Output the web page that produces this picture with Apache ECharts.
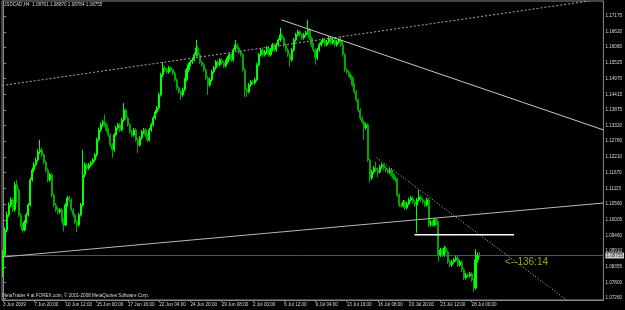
<!DOCTYPE html>
<html><head><meta charset="utf-8">
<script src="https://cdn.jsdelivr.net/npm/echarts@6/dist/echarts.min.js"></script>
<style>html,body{margin:0;padding:0;background:#000;}#c{width:625px;height:310px;}</style>
</head><body><div id="c"></div>
<script>
const titleText = 'USDCAD,H4  1.08761 1.08870 1.08784 1.08755';
const footerText = 'MetaTrader 4 at FOREX.com, \u00a9 2001-2008 MetaQuotes Software Corp.';
const slotCount = 308;
const tickBars = [0,16,32,48,64,80,96,112,128,144,160,176,192,208,224,240];
const tickLabels = ['3 Jun 2009','7 Jun 20:00','10 Jun 12:00','15 Jun 00:00','17 Jun 16:00','22 Jun 04:00','24 Jun 20:00','29 Jun 08:00','2 Jul 00:00','6 Jul 12:00','9 Jul 04:00','13 Jul 16:00','16 Jul 08:00','20 Jul 20:00','23 Jul 12:00','28 Jul 00:00'];
const yTicks = [1.07260,1.07800,1.08355,1.08910,1.09460,1.10005,1.10560,1.11115,1.11670,1.12210,1.12780,1.13320,1.13875,1.14415,1.14970,1.15525,1.16080,1.16620,1.17175];
const yMin = 1.07190, yMax = 1.17702;
// [open, close, low, high]
const candles = [
[1.0825,1.0877,1.0800,1.0895],[1.0877,1.0965,1.0870,1.0975],[1.0965,1.1018,1.0958,1.1030],[1.1018,1.1053,1.1010,1.1062],[1.1053,1.1071,1.1045,1.1080],[1.1071,1.1036,1.1028,1.1078],
[1.1036,1.1124,1.1030,1.1135],[1.1124,1.1106,1.1060,1.1141],[1.1106,1.1018,1.1010,1.1112],[1.1018,1.0983,1.0975,1.1025],[1.0983,1.0965,1.0955,1.0990],[1.0965,1.0993,1.0960,1.1000],
[1.0993,1.1018,1.0988,1.1025],[1.1018,1.1053,1.1012,1.1060],[1.1053,1.1141,1.1048,1.1150],[1.1141,1.1176,1.1135,1.1185],[1.1176,1.1194,1.1168,1.1203],[1.1194,1.1211,1.1188,1.1220],
[1.1211,1.1240,1.1205,1.1250],[1.1240,1.1247,1.1232,1.1282],[1.1247,1.1229,1.1222,1.1255],[1.1229,1.1204,1.1197,1.1236],[1.1204,1.1176,1.1168,1.1210],[1.1176,1.1141,1.1133,1.1182],
[1.1141,1.1159,1.1135,1.1166],[1.1159,1.1088,1.1080,1.1165],[1.1088,1.1053,1.1045,1.1094],[1.1053,1.1036,1.1028,1.1060],[1.1036,1.1029,1.1020,1.1045],[1.1029,1.1036,1.1022,1.1043],
[1.1036,1.1001,1.0993,1.1042],[1.1001,1.0983,1.0960,1.1008],[1.0983,1.1053,1.0978,1.1060],[1.1053,1.1078,1.1047,1.1086],[1.1078,1.1071,1.1063,1.1085],[1.1071,1.1036,1.1030,1.1077],
[1.1036,1.1018,1.1010,1.1042],[1.1018,1.0993,1.0985,1.1024],[1.0993,1.0983,1.0958,1.1000],[1.0983,1.1018,1.0977,1.1025],[1.1018,1.1053,1.1012,1.1060],[1.1053,1.1159,1.1048,1.1247],
[1.1159,1.1194,1.1150,1.1203],[1.1194,1.1183,1.1175,1.1200],[1.1183,1.1194,1.1176,1.1201],[1.1194,1.1201,1.1187,1.1208],[1.1201,1.1211,1.1195,1.1218],[1.1211,1.1229,1.1205,1.1236],
[1.1229,1.1282,1.1222,1.1290],[1.1282,1.1317,1.1276,1.1325],[1.1317,1.1335,1.1310,1.1343],[1.1335,1.1345,1.1328,1.1353],[1.1345,1.1335,1.1328,1.1370],[1.1335,1.1317,1.1310,1.1341],
[1.1317,1.1299,1.1292,1.1323],[1.1299,1.1264,1.1257,1.1305],[1.1264,1.1247,1.1218,1.1270],[1.1247,1.1299,1.1240,1.1306],[1.1299,1.1324,1.1293,1.1331],[1.1324,1.1335,1.1317,1.1342],
[1.1335,1.1317,1.1310,1.1341],[1.1317,1.1352,1.1311,1.1360],[1.1352,1.1387,1.1345,1.1412],[1.1387,1.1359,1.1352,1.1393],[1.1359,1.1335,1.1328,1.1365],[1.1335,1.1310,1.1303,1.1341],
[1.1310,1.1299,1.1292,1.1317],[1.1299,1.1317,1.1293,1.1324],[1.1317,1.1282,1.1275,1.1323],[1.1282,1.1264,1.1236,1.1289],[1.1264,1.1289,1.1258,1.1296],[1.1289,1.1310,1.1283,1.1317],
[1.1310,1.1317,1.1303,1.1324],[1.1317,1.1299,1.1292,1.1323],[1.1299,1.1282,1.1275,1.1305],[1.1282,1.1317,1.1276,1.1324],[1.1317,1.1335,1.1311,1.1342],[1.1335,1.1359,1.1329,1.1366],
[1.1359,1.1380,1.1353,1.1387],[1.1380,1.1394,1.1374,1.1401],[1.1394,1.1440,1.1388,1.1448],[1.1440,1.1510,1.1434,1.1518],[1.1510,1.1535,1.1503,1.1556],[1.1535,1.1528,1.1520,1.1542],
[1.1528,1.1521,1.1514,1.1535],[1.1521,1.1535,1.1515,1.1542],[1.1535,1.1528,1.1521,1.1541],[1.1528,1.1517,1.1510,1.1534],[1.1517,1.1493,1.1486,1.1523],[1.1493,1.1465,1.1458,1.1499],
[1.1465,1.1451,1.1444,1.1471],[1.1451,1.1440,1.1422,1.1457],[1.1440,1.1458,1.1433,1.1465],[1.1458,1.1493,1.1452,1.1500],[1.1493,1.1528,1.1487,1.1535],[1.1528,1.1546,1.1521,1.1553],
[1.1546,1.1556,1.1539,1.1563],[1.1556,1.1563,1.1549,1.1570],[1.1563,1.1581,1.1557,1.1588],[1.1581,1.1605,1.1575,1.1633],[1.1605,1.1581,1.1574,1.1612],[1.1581,1.1556,1.1549,1.1587],
[1.1556,1.1546,1.1539,1.1562],[1.1546,1.1528,1.1521,1.1552],[1.1528,1.1500,1.1493,1.1534],[1.1500,1.1475,1.1440,1.1506],[1.1475,1.1493,1.1468,1.1500],[1.1493,1.1521,1.1487,1.1528],
[1.1521,1.1535,1.1515,1.1542],[1.1535,1.1556,1.1529,1.1563],[1.1556,1.1546,1.1539,1.1562],[1.1546,1.1563,1.1540,1.1570],[1.1563,1.1553,1.1546,1.1569],[1.1553,1.1542,1.1535,1.1559],
[1.1542,1.1556,1.1536,1.1563],[1.1556,1.1570,1.1550,1.1577],[1.1570,1.1581,1.1564,1.1588],[1.1581,1.1563,1.1556,1.1587],[1.1563,1.1598,1.1557,1.1605],[1.1598,1.1616,1.1592,1.1633],
[1.1616,1.1605,1.1598,1.1622],[1.1605,1.1591,1.1584,1.1611],[1.1591,1.1581,1.1574,1.1597],[1.1581,1.1528,1.1521,1.1587],[1.1528,1.1458,1.1433,1.1534],[1.1458,1.1451,1.1433,1.1464],
[1.1451,1.1475,1.1445,1.1482],[1.1475,1.1486,1.1469,1.1493],[1.1486,1.1482,1.1475,1.1492],[1.1482,1.1493,1.1476,1.1500],[1.1493,1.1546,1.1487,1.1553],[1.1546,1.1581,1.1540,1.1588],
[1.1581,1.1598,1.1575,1.1605],[1.1598,1.1581,1.1574,1.1604],[1.1581,1.1591,1.1575,1.1598],[1.1591,1.1605,1.1585,1.1612],[1.1605,1.1581,1.1574,1.1611],[1.1581,1.1598,1.1575,1.1605],
[1.1598,1.1616,1.1592,1.1623],[1.1616,1.1598,1.1591,1.1622],[1.1598,1.1616,1.1592,1.1623],[1.1616,1.1633,1.1610,1.1640],[1.1633,1.1651,1.1627,1.1676],[1.1651,1.1640,1.1633,1.1657],
[1.1640,1.1616,1.1609,1.1646],[1.1616,1.1598,1.1591,1.1622],[1.1598,1.1581,1.1574,1.1604],[1.1581,1.1563,1.1539,1.1587],[1.1563,1.1598,1.1557,1.1605],[1.1598,1.1633,1.1592,1.1640],
[1.1633,1.1651,1.1627,1.1658],[1.1651,1.1662,1.1645,1.1669],[1.1662,1.1651,1.1644,1.1668],[1.1651,1.1640,1.1633,1.1657],[1.1640,1.1651,1.1634,1.1658],[1.1651,1.1658,1.1645,1.1665],
[1.1658,1.1669,1.1652,1.1704],[1.1669,1.1640,1.1633,1.1675],[1.1640,1.1616,1.1609,1.1646],[1.1616,1.1598,1.1591,1.1622],[1.1598,1.1570,1.1546,1.1604],[1.1570,1.1598,1.1564,1.1605],
[1.1598,1.1616,1.1592,1.1623],[1.1616,1.1626,1.1610,1.1633],[1.1626,1.1633,1.1620,1.1640],[1.1633,1.1616,1.1609,1.1639],[1.1616,1.1626,1.1610,1.1633],[1.1626,1.1640,1.1620,1.1647],
[1.1640,1.1623,1.1616,1.1646],[1.1623,1.1633,1.1617,1.1640],[1.1633,1.1616,1.1609,1.1639],[1.1616,1.1626,1.1610,1.1633],[1.1626,1.1633,1.1620,1.1640],[1.1633,1.1616,1.1609,1.1645],
[1.1616,1.1581,1.1574,1.1630],[1.1581,1.1528,1.1521,1.1587],[1.1528,1.1521,1.1514,1.1535],[1.1521,1.1510,1.1503,1.1527],[1.1510,1.1500,1.1493,1.1516],[1.1500,1.1475,1.1468,1.1506],
[1.1475,1.1451,1.1444,1.1481],[1.1451,1.1422,1.1415,1.1457],[1.1422,1.1387,1.1380,1.1428],[1.1387,1.1359,1.1352,1.1393],[1.1359,1.1345,1.1338,1.1365],[1.1345,1.1324,1.1282,1.1351],
[1.1324,1.1335,1.1317,1.1342],[1.1335,1.1211,1.1204,1.1341],[1.1211,1.1148,1.1131,1.1217],[1.1148,1.1169,1.1141,1.1176],[1.1169,1.1183,1.1162,1.1190],[1.1183,1.1176,1.1169,1.1205],
[1.1176,1.1169,1.1150,1.1182],[1.1169,1.1187,1.1163,1.1194],[1.1187,1.1194,1.1180,1.1201],[1.1194,1.1183,1.1176,1.1200],[1.1183,1.1176,1.1169,1.1189],[1.1176,1.1169,1.1162,1.1182],
[1.1169,1.1176,1.1163,1.1183],[1.1176,1.1159,1.1152,1.1182],[1.1159,1.1148,1.1141,1.1165],[1.1148,1.1141,1.1134,1.1154],[1.1141,1.1088,1.1081,1.1147],[1.1088,1.1053,1.1046,1.1094],
[1.1053,1.1050,1.1043,1.1060],[1.1050,1.1064,1.1044,1.1071],[1.1064,1.1043,1.1036,1.1070],[1.1043,1.1057,1.1037,1.1064],[1.1057,1.1071,1.1051,1.1078],[1.1071,1.1078,1.1065,1.1085],
[1.1078,1.1064,1.1057,1.1084],[1.1064,1.1053,1.1046,1.1070],[1.1053,1.1071,1.0955,1.1078],[1.1071,1.1081,1.1065,1.1106],[1.1081,1.1071,1.1064,1.1087],[1.1071,1.1064,1.1057,1.1077],
[1.1064,1.1053,1.1046,1.1070],[1.1053,1.1071,1.1047,1.1078],[1.1071,1.0983,1.0976,1.1077],[1.0983,1.0993,1.0977,1.1000],[1.0993,1.0983,1.0976,1.0999],[1.0983,1.1001,1.0977,1.1008],
[1.1001,1.0990,1.0983,1.1007],[1.0990,1.0877,1.0853,1.0996],[1.0877,1.0895,1.0870,1.0902],[1.0895,1.0877,1.0870,1.0901],[1.0877,1.0902,1.0871,1.0909],[1.0902,1.0888,1.0881,1.0908],
[1.0888,1.0853,1.0846,1.0894],[1.0853,1.0842,1.0835,1.0859],[1.0842,1.0853,1.0836,1.0860],[1.0853,1.0860,1.0847,1.0867],[1.0860,1.0867,1.0854,1.0874],[1.0867,1.0842,1.0835,1.0873],
[1.0842,1.0853,1.0836,1.0860],[1.0853,1.0825,1.0818,1.0859],[1.0825,1.0797,1.0790,1.0831],[1.0797,1.0807,1.0791,1.0814],[1.0807,1.0804,1.0797,1.0813],[1.0804,1.0811,1.0798,1.0818],
[1.0811,1.0790,1.0783,1.0817],[1.0790,1.0761,1.0747,1.0796],[1.0761,1.0860,1.0755,1.0898],[1.0860,1.0876,1.0850,1.0887],[1.08761,1.08755,1.0870,1.0887]
];
const bidPrice = 1.08755;
// trend objects in [bar index, price]
const upperDotted = [[-0.5,1.1473],[299.9,1.1770]];
const risingLine = [[-0.5,1.0870],[307.5,1.1060]];
const fallingLine = [[142.6,1.1704],[307.5,1.1317]];
const fallingDotted = [[191.4,1.1219],[288.7,1.0719]];
const whiteLevel = [[210.8,1.0948],[261.7,1.0948]];
const bidLine = [[-0.5,bidPrice],[307.5,bidPrice]];
const noteText = '<--136:14';
const notePoint = [257.1,1.0853];

const categories = [];
for (let i = 0; i < slotCount; i++) {
  const k = tickBars.indexOf(i);
  categories.push(k >= 0 ? tickLabels[k] : '');
}
const isTick = (idx) => tickBars.indexOf(idx) >= 0;
const font = 'Liberation Sans, Arial, sans-serif';
const candleData = candles.map(d => ({
  value: d,
  itemStyle: d[1] >= d[0]
    ? {color: '#00ff00', borderColor: '#00ff00'}
    : {color: '#00a800', borderColor: '#00a800'}
}));

const chart = echarts.init(document.getElementById('c'), null, {renderer: 'canvas'});
function seg(data, color, type, width, z) {
  return {type: 'line', xAxisIndex: 1, yAxisIndex: 0, data: data, symbol: 'none', silent: true,
    lineStyle: {color: color, width: width || 1, type: type || 'solid'}, z: z || 5, animation: false};
}
chart.setOption({
  backgroundColor: '#000000',
  animation: false,
  grid: {left: 2, right: 18, top: 1, bottom: 10, show: true, borderColor: '#8a8a8a', borderWidth: 1},
  xAxis: [{
    type: 'category', data: categories, boundaryGap: true,
    axisLine: {show: true, lineStyle: {color: '#8a8a8a'}},
    axisTick: {show: true, alignWithLabel: true, interval: isTick, length: 2, lineStyle: {color: '#8a8a8a'}},
    axisLabel: {interval: isTick, align: 'left', fontSize: 4.6, color: '#d8d8d8', margin: 2, fontFamily: font},
    splitLine: {show: false}
  }, {
    type: 'value', min: -0.5, max: slotCount - 0.5, show: false
  }],
  yAxis: [{
    type: 'value', position: 'right', min: yMin, max: yMax, scale: true,
    splitLine: {show: false},
    axisLine: {show: true, lineStyle: {color: '#8a8a8a'}},
    axisTick: {show: true, length: 3, customValues: yTicks, lineStyle: {color: '#8a8a8a'}},
    axisLabel: {customValues: yTicks, formatter: v => v.toFixed(5), fontSize: 4.6, color: '#d8d8d8', margin: 2, fontFamily: font}
  }],
  graphic: [
    {type: 'text', left: 3, top: 2, style: {text: titleText, fill: '#d8d8d8', font: '4.6px ' + font}},
    {type: 'text', left: 2, top: 293, style: {text: footerText, fill: '#d8d8d8', font: '4.6px ' + font}}
  ],
  series: [
    seg(bidLine, '#4a5858', 'solid', 1, 2),
    {
      type: 'candlestick', data: candleData, xAxisIndex: 0, yAxisIndex: 0, barWidth: 1.6,
      itemStyle: {color: '#00ff00', color0: '#00a800', borderColor: '#00ff00', borderColor0: '#00a800', borderWidth: 1},
      z: 3
    },
    seg(upperDotted, '#a8a8a8', [2, 2], 1),
    seg(risingLine, '#b8b8b8', 'solid', 1),
    seg(fallingLine, '#c8c8c8', 'solid', 1),
    seg(fallingDotted, '#c0c0c0', [1, 2], 1),
    seg(whiteLevel, '#ffffff', 'solid', 1.5),
    {
      type: 'scatter', xAxisIndex: 1, yAxisIndex: 0, data: [notePoint], symbolSize: 0, silent: true,
      label: {show: true, position: 'right', distance: 0, formatter: noteText, color: '#c8c800', fontSize: 10, fontFamily: font}
    },
    {
      type: 'scatter', xAxisIndex: 1, yAxisIndex: 0, data: [[307.5, bidPrice]], symbolSize: 0, silent: true, z: 10,
      label: {show: true, position: 'right', distance: 2, formatter: bidPrice.toFixed(5), backgroundColor: '#ffffff', color: '#000000', fontSize: 4.6, padding: [1, 1, 0, 1], fontFamily: font}
    }
  ]
});
</script></body></html>
